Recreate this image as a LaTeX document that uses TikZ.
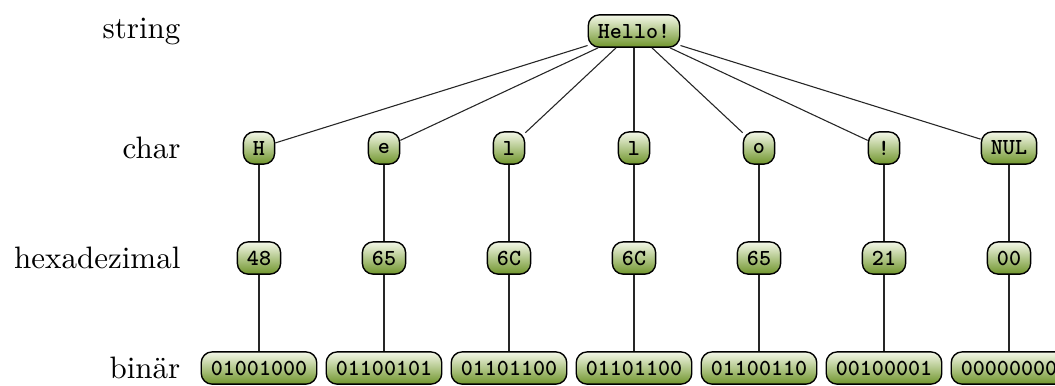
\documentclass[tikz,border=0pt]{standalone}
\definecolor{leaftop}{RGB}{244,247,232}
\definecolor{leafbot}{RGB}{112,150,44}
\begin{document}
\begin{tikzpicture}[x=0.3226pt,y=-0.3226pt,
  box/.style={draw=black, line width=0.45pt, rounded corners=3.5pt,
    top color=leaftop, bottom color=leafbot,
    font=\ttfamily\bfseries\fontsize{7.4}{9}\selectfont,
    inner xsep=3.1pt, inner ysep=0pt, minimum height=10.4pt, minimum width=10pt},
  rowlabel/.style={anchor=east, inner sep=0pt, font=\fontsize{10}{12}\selectfont},
  edge/.style={line width=0.35pt, draw=black!85}]
\useasboundingbox (0,0) rectangle (1055,385);

% row captions
\node[rowlabel] (lstring) at (181,31)  {string};
\node[rowlabel] (lchar)   at (181,148) {char};
\node[rowlabel] (lhex)    at (181,258) {hexadezimal};
\node[rowlabel] (lbin)    at (181,368) {binär};

% root
\node[box] (root) at (634,31) {Hello!};

% one column per character
\foreach \i/\c/\h/\b in {1/H/48/01001000, 2/e/65/01100101, 3/l/6C/01101100,
                         4/l/6C/01101100, 5/o/65/01100110, 6/!/21/00100001,
                         7/NUL/00/00000000} {
  \pgfmathsetmacro{\xx}{259+(\i-1)*125}
  \node[box] (c\i) at (\xx,148) {\c};
  \node[box] (h\i) at (\xx,258) {\h};
  \node[box] (b\i) at (\xx,368) {\b};
  \draw[edge] (root) -- (c\i);
  \draw[edge] (c\i) -- (h\i);
  \draw[edge] (h\i) -- (b\i);
}
\end{tikzpicture}
\end{document}
